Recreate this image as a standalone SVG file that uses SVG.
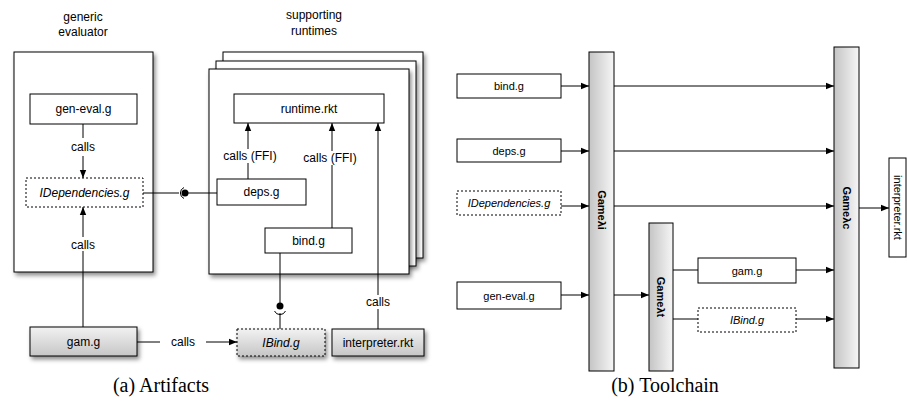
<svg xmlns="http://www.w3.org/2000/svg" width="907" height="412" viewBox="0 0 907 412">
<style>
.t{font-family:"Liberation Sans",Arial,sans-serif;font-size:12px;fill:#000;text-anchor:middle;dominant-baseline:central}
.s{font-size:11px}
.it{font-style:italic}
.b{font-weight:bold;font-size:11px}
.cap{font-family:"Liberation Serif","Times New Roman",serif;font-size:20px;fill:#000;text-anchor:middle}
.box{fill:#fff;stroke:#000;stroke-width:1}
.dot{fill:#fff;stroke:#000;stroke-width:1;stroke-dasharray:2 2}
.ln{fill:none;stroke:#000;stroke-width:1}
.arr{fill:none;stroke:#000;stroke-width:1;marker-end:url(#ah)}
</style>
<defs>
<marker id="ah" viewBox="0 0 10 10" refX="10" refY="5" markerWidth="8" markerHeight="8" markerUnits="userSpaceOnUse" orient="auto"><path d="M0,1 L10,5 L0,9 z" fill="#000"/></marker>
<filter id="sh" x="-20%" y="-20%" width="150%" height="150%"><feDropShadow dx="2" dy="3" stdDeviation="2" flood-color="#000" flood-opacity="0.45"/></filter>
<linearGradient id="gv" x1="0" y1="0" x2="0" y2="1"><stop offset="0" stop-color="#f2f2f2"/><stop offset="1" stop-color="#c6c6c6"/></linearGradient>
<linearGradient id="gh" x1="0" y1="0" x2="1" y2="0"><stop offset="0" stop-color="#c4c4c4"/><stop offset="1" stop-color="#f6f6f6"/></linearGradient>
</defs>

<!-- (a) Artifacts -->
<g id="generic-evaluator">
<text class="t" x="83" y="17">generic</text>
<text class="t" x="83" y="32">evaluator</text>
<rect class="box" x="14" y="52" width="139" height="220" filter="url(#sh)"/>
</g>
<g id="supporting-runtimes">
<text class="t" x="314" y="15">supporting</text>
<text class="t" x="314" y="31">runtimes</text>
<rect class="box" x="223" y="52" width="200" height="206" filter="url(#sh)"/>
<rect class="box" x="216" y="61" width="200" height="205" filter="url(#sh)"/>
<rect class="box" x="209" y="69" width="200" height="205" filter="url(#sh)"/>
</g>
<g id="gen-eval-a"><rect class="box" x="30" y="94" width="107" height="30"/><text class="t" x="83.5" y="109">gen-eval.g</text></g>
<g id="idependencies-a"><rect class="dot" x="26" y="178" width="117" height="29"/><text class="t it" x="84.5" y="193">IDependencies.g</text></g>
<g id="runtime-rkt"><rect class="box" x="234" y="94" width="150" height="29"/><text class="t" x="309" y="108.5">runtime.rkt</text></g>
<g id="deps-a"><rect class="box" x="217" y="179" width="89" height="26"/><text class="t" x="261.5" y="192">deps.g</text></g>
<g id="bind-a"><rect class="box" x="265" y="228" width="87" height="25"/><text class="t" x="308.5" y="240.5">bind.g</text></g>
<g id="gam-a"><rect x="30" y="327" width="107" height="29" fill="url(#gv)" stroke="#000" filter="url(#sh)"/><text class="t" x="83.5" y="341.5">gam.g</text></g>
<g id="ibind-a"><rect x="237" y="329" width="88" height="27" fill="url(#gv)" stroke="#000" stroke-dasharray="2 2" filter="url(#sh)"/><text class="t it" x="281" y="342.5">IBind.g</text></g>
<g id="interpreter-a"><rect x="332" y="329" width="92" height="27" fill="url(#gv)" stroke="#000" filter="url(#sh)"/><text class="t" x="378" y="342.5">interpreter.rkt</text></g>

<g id="connectors-a">
<path class="ln" d="M83,124 V138"/><text class="t" x="83" y="147">calls</text><path class="arr" d="M83,156 V178"/>
<path class="arr" d="M83,327 V207"/><rect x="66" y="237" width="34" height="14" fill="#fff"/><text class="t" x="83" y="245">calls</text>
<path class="ln" d="M143,193 H179"/><path class="ln" d="M184,187.5 A6,6 0 0 0 184,198.5"/><circle cx="185" cy="193" r="3.5" fill="#000"/><path class="ln" d="M185,193 H217"/>
<path class="arr" d="M248,179 V123"/><rect x="216" y="149" width="66" height="14" fill="#fff"/><text class="t" x="250" y="156">calls (FFI)</text>
<path class="arr" d="M332,228 V123"/><rect x="297" y="151" width="66" height="14" fill="#fff"/><text class="t" x="330" y="158">calls (FFI)</text>
<path class="arr" d="M378,329 V123"/><rect x="362" y="295" width="32" height="14" fill="#fff"/><text class="t" x="378" y="302">calls</text>
<path class="ln" d="M280,253 V306"/><circle cx="280" cy="306" r="3.5" fill="#000"/><path class="ln" d="M274.5,311 A6,6 0 0 0 285.5,311"/><path class="ln" d="M280,313 V329"/>
<path class="ln" d="M137,342 H160"/><text class="t" x="183" y="342">calls</text><path class="arr" d="M206,342 H237"/>
</g>
<text class="cap" x="161" y="392">(a) Artifacts</text>

<!-- (b) Toolchain -->
<g id="bind-b"><rect class="box" x="457" y="74" width="104" height="24"/><text class="t s" x="509" y="86">bind.g</text></g>
<g id="deps-b"><rect class="box" x="457" y="139" width="104" height="23"/><text class="t s" x="509" y="150.5">deps.g</text></g>
<g id="idependencies-b"><rect class="dot" x="457" y="191" width="104" height="24"/><text class="t s it" x="509" y="203">IDependencies.g</text></g>
<g id="gen-eval-b"><rect class="box" x="457" y="282" width="104" height="27"/><text class="t s" x="509" y="295.5">gen-eval.g</text></g>
<g id="gamei"><rect x="589" y="52" width="25" height="319" fill="url(#gh)" stroke="#000"/><text class="t b" transform="rotate(90 601.5 210)" x="601.5" y="210">Gameλi</text></g>
<g id="gamet"><rect x="649" y="223" width="24" height="148" fill="url(#gh)" stroke="#000"/><text class="t b" transform="rotate(90 661 297)" x="661" y="297">Gameλt</text></g>
<g id="gamec"><rect x="834" y="47" width="25" height="321" fill="url(#gh)" stroke="#000"/><text class="t b" transform="rotate(90 846.5 208)" x="846.5" y="208">Gameλc</text></g>
<g id="gam-b"><rect class="box" x="698" y="258" width="98" height="25"/><text class="t s" x="747" y="270.5">gam.g</text></g>
<g id="ibind-b"><rect class="dot" x="698" y="308" width="98" height="24"/><text class="t s it" x="747" y="320">IBind.g</text></g>
<g id="interpreter-b"><rect class="box" x="889" y="158" width="17" height="99"/><text class="t s" transform="rotate(90 897.5 207.5)" x="897.5" y="207.5">interpreter.rkt</text></g>

<g id="connectors-b">
<path class="arr" d="M561,86 H589"/>
<path class="arr" d="M561,151 H589"/>
<path class="arr" d="M561,206 H589"/>
<path class="arr" d="M561,295 H589"/>
<path class="arr" d="M614,86 H834"/>
<path class="arr" d="M614,151 H834"/>
<path class="arr" d="M614,206 H834"/>
<path class="arr" d="M614,295 H649"/>
<path class="ln" d="M673,270 H698"/><path class="arr" d="M796,270 H834"/>
<path class="ln" d="M673,319 H698"/><path class="arr" d="M796,319 H834"/>
<path class="arr" d="M859,208 H889"/>
</g>
<text class="cap" x="665" y="392">(b) Toolchain</text>
</svg>
